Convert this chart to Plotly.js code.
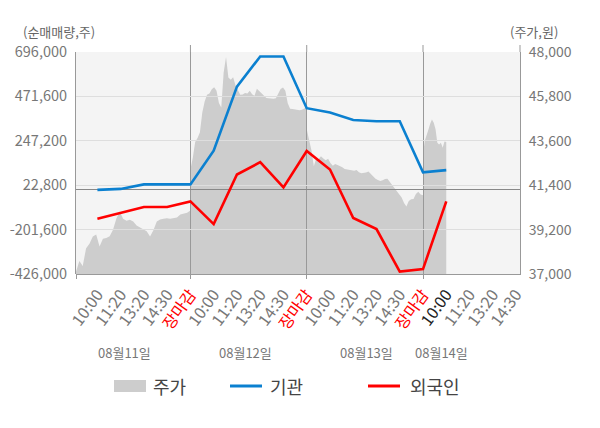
<!DOCTYPE html>
<html>
<head>
<meta charset="utf-8">
<script src="https://cdn.plot.ly/plotly-3.0.1.min.js"></script>
<style>html,body{margin:0;padding:0;background:#fff;}#chart{width:600px;height:428px;}</style>
</head>
<body>
<div id="chart"></div>
<script>
// ---- data ----
const slotLabels = ['10:00','11:20','13:20','14:30','장마감',
                    '10:00','11:20','13:20','14:30','장마감',
                    '10:00','11:20','13:20','14:30','장마감',
                    '10:00','11:20','13:20','14:30'];
const dayLabels = ['08월11일','08월12일','08월13일','08월14일'];
const seriesNames = ['주가','기관','외국인'];
// net buying volume (shares), one value per time slot
const institution = [-1000, 4000, 27000, 27000, 27000, 197000, 521000, 673000, 673000, 412000,
                     390000, 352000, 346000, 346000, 88000, 99000];
const foreign = [-147000, -116000, -87000, -87000, -59000, -174000, 77000, 139000, 12000, 196000,
                 102000, -143000, -199000, -414000, -401000, -59000];
// stock price (won), intraday samples per day
const priceDay1 = [37115,37650,37400,38280,38494,38857,38960,38360,38750,38778,38870,39191,39745,40102,
                   39740,39640,39688,39600,39400,39310,39250,39120,38857,39170,39604,39700,39735,39760,
                   39740,39773,39800,39950,39995,40040,40150];
const priceDay2 = [42177,42759,43540,43740,44020,44999,45545,45877,45940,46159,46255,46074,45470,45248,
                   46990,47750,46741,46620,46755,46340,46109,45876,45900,45970,45944,46074,45910,45835,
                   46183,46056,45942,45816,45725,45710,45700,45680,45708,45910,46170,46243,46074,45460,
                   45183,45180,45152,45128,45118,45138,45200,45266];
const priceDay3 = [44168,43615,43116,42344,42725,42690,42830,42725,42640,42710,42495,42358,42454,42407,
                   42366,42295,42207,42174,42150,42117,42113,42158,42036,41991,41996,42029,42084,41951,
                   41805,41721,41662,41603,41645,41711,41716,41562,41446,41307,41145,40994,40791,40513,
                   40342,40619,40709,40718,40967,41073,40933,40900];
const priceDay4 = [42950,43600,43950,44150,44450,44650,44500,44168,43506,43421,43506,43250,43560,43536];
const volumeTicks = [-426000,-201600,22800,247200,471600,696000];
const priceTicks = [37000,39200,41400,43600,45800,48000];

// ---- layout helpers ----
const W = 600, H = 428, ML = 76, MR = 80, MT = 52, MB = 154;
const PW = W - ML - MR, PH = H - MT - MB;
const px = x => (x - ML) / PW;
const py = y => (MT + PH - y) / PH;
const xRange = [-0.92, 18.17];
const slotsPerDay = 5;
const dividers = [];
for (let i = 0; i < slotLabels.length; i++) if (slotLabels[i] === '장마감') dividers.push(i);

// build price x positions: each day spans from the slot before 10:00 to its close
const priceDays = [priceDay1, priceDay2, priceDay3, priceDay4];
const px_ = [], py_ = [];
priceDays.forEach((arr, d) => {
  let start = Math.max(d * slotsPerDay - 1, xRange[0]);
  let end = (d < priceDays.length - 1) ? d * slotsPerDay + 4 : institution.length - 1;
  arr.forEach((v, k) => {
    px_.push(start + (end - start) * k / (arr.length - 1));
    py_.push(v);
  });
});
const flowX = institution.map((_, i) => i);

const fmt = v => (v < 0 ? '-' : '') + Math.abs(v).toLocaleString('en-US');
const tickText = slotLabels.map((t, i) => {
  if (t === '장마감') return '<span style="color:#ff0000">' + t + '</span>';
  if (i === institution.length - 1) return '<span style="color:#222">' + t + '</span>';
  return t;
});

const FONT = '"Noto Sans CJK KR", "Noto Sans", sans-serif';
const traces = [
  {x: px_, y: py_, xaxis: 'x', yaxis: 'y', type: 'scatter', mode: 'lines',
   line: {width: 0, color: '#cdcdcd'}, fill: 'tozeroy', fillcolor: '#cdcdcd',
   name: seriesNames[0], showlegend: false, hoverinfo: 'skip'},
  {x: flowX, y: institution, xaxis: 'x2', yaxis: 'y2', type: 'scatter', mode: 'lines',
   line: {width: 2.6, color: '#0b80d0'}, name: seriesNames[1], showlegend: false},
  {x: flowX, y: foreign, xaxis: 'x2', yaxis: 'y2', type: 'scatter', mode: 'lines',
   line: {width: 2.6, color: '#ff0000'}, name: seriesNames[2], showlegend: false}
];

const shapes = [
  {type: 'rect', xref: 'paper', yref: 'paper', x0: 0, x1: 1, y0: 0, y1: 1,
   fillcolor: '#f4f4f4', line: {width: 0}, layer: 'below'},
  // right axis line extension above plot
  {type: 'line', xref: 'paper', yref: 'paper', x0: 1, x1: 1, y0: 1, y1: py(45),
   line: {color: '#999', width: 1}}
];
dividers.forEach(d => shapes.push({type: 'line', xref: 'x2', yref: 'paper', x0: d, x1: d, y0: 1, y1: py(45),
  line: {color: '#999', width: 1}}));
// legend symbols
shapes.push({type: 'rect', xref: 'paper', yref: 'paper', x0: px(114), x1: px(146), y0: py(392), y1: py(380),
  fillcolor: '#cdcdcd', line: {width: 0}});
shapes.push({type: 'line', xref: 'paper', yref: 'paper', x0: px(230), x1: px(262), y0: py(386), y1: py(386),
  line: {color: '#0b80d0', width: 3}});
shapes.push({type: 'line', xref: 'paper', yref: 'paper', x0: px(368), x1: px(400), y0: py(386), y1: py(386),
  line: {color: '#ff0000', width: 3}});

const dateX = [124, 245, 366, 441];
const annotations = [
  {xref: 'paper', yref: 'paper', x: px(22), y: py(31), xanchor: 'left', yanchor: 'middle', borderpad: 0,
   text: '(순매매량,주)', showarrow: false, font: {size: 13, color: '#666'}},
  {xref: 'paper', yref: 'paper', x: px(509), y: py(31), xanchor: 'left', yanchor: 'middle', borderpad: 0,
   text: '(주가,원)', showarrow: false, font: {size: 13, color: '#666'}}
];
dayLabels.forEach((t, i) => annotations.push({xref: 'paper', yref: 'paper', x: px(dateX[i]), y: py(352),
  xanchor: 'center', yanchor: 'middle', text: t, showarrow: false, font: {size: 13, color: '#777'}}));
const legX = [151, 268, 408];
seriesNames.forEach((t, i) => annotations.push({xref: 'paper', yref: 'paper', x: px(legX[i]), y: py(386),
  xanchor: 'left', yanchor: 'middle', text: t, showarrow: false, font: {size: 18, color: '#444'}}));

const layout = {
  width: W, height: H,
  margin: {l: ML, r: MR, t: MT, b: MB, pad: 0},
  paper_bgcolor: '#fff', plot_bgcolor: 'rgba(0,0,0,0)',
  font: {family: FONT, color: '#777', size: 14},
  showlegend: false,
  xaxis: {domain: [0, 1], anchor: 'y', range: xRange, tickmode: 'array',
          tickvals: slotLabels.map((_, i) => i), ticktext: tickText, tickangle: -54,
          ticks: '', showgrid: false, zeroline: false, showline: true, linecolor: '#999', linewidth: 1,
          tickfont: {size: 16, color: '#777'}, ticklabelstandoff: 4, fixedrange: true},
  yaxis: {domain: [0, 1], anchor: 'x', side: 'right', range: [priceTicks[0], priceTicks[priceTicks.length - 1]],
          tickmode: 'array', tickvals: priceTicks, ticktext: priceTicks.map(fmt),
          showgrid: false, zeroline: false, showline: true, linecolor: '#999', linewidth: 1, ticks: '',
          tickfont: {size: 14, color: '#777'}, ticklabelstandoff: 5},
  xaxis2: {domain: [0, 1], anchor: 'y2', range: xRange, tickmode: 'array',
           tickvals: [xRange[0]].concat(dividers), showticklabels: false, ticks: 'outside', ticklen: 4,
           tickcolor: '#999', showgrid: true, gridcolor: '#999', gridwidth: 1, zeroline: false, showline: false},
  yaxis2: {domain: [0, 1], anchor: 'x2', side: 'left', range: [volumeTicks[0], volumeTicks[volumeTicks.length - 1]],
           tickmode: 'array', tickvals: volumeTicks, ticktext: volumeTicks.map(fmt),
           showgrid: true, gridcolor: '#dedede', gridwidth: 1,
           zeroline: true, zerolinecolor: '#888', zerolinewidth: 1,
           showline: true, linecolor: '#999', linewidth: 1, ticks: '',
           tickfont: {size: 14.5, color: '#777'}, ticklabelstandoff: 5},
  shapes: shapes,
  annotations: annotations
};

Plotly.newPlot('chart', traces, layout, {staticPlot: true, displayModeBar: false});
</script>
</body>
</html>
